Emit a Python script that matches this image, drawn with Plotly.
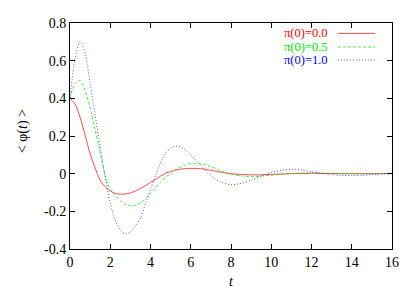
import plotly.graph_objects as go

# time grid
t = [0, 0.25, 0.5, 0.75, 1.0, 1.25, 1.5, 1.75, 2.0, 2.25, 2.5, 2.75, 3.0,
     3.25, 3.5, 3.75, 4.0, 4.25, 4.5, 4.75, 5.0, 5.25, 5.5, 5.75, 6.0,
     6.5, 7.0, 7.5, 8.0, 8.5, 9.0, 9.5, 10.0, 10.5, 11.0, 11.5, 12.0,
     12.5, 13.0, 13.5, 14.0, 14.5, 15.0, 15.5, 16.0]

# pi(0)=0.0
phi_00 = [0.40, 0.37, 0.30, 0.205, 0.105, 0.03, -0.035, -0.07, -0.092, -0.104,
          -0.109, -0.108, -0.102, -0.092, -0.078, -0.064, -0.047, -0.030, -0.013,
          0.002, 0.012, 0.019, 0.024, 0.027, 0.028,
          0.026, 0.018, 0.008, 0.000, -0.004, -0.006, -0.006, -0.004, -0.002,
          0.000, 0.001, 0.002, 0.001, 0.001, 0.000, 0.000, 0.000, 0.000, 0.000, 0.000]

# pi(0)=0.5
phi_05 = [0.40, 0.48, 0.495, 0.44, 0.35, 0.23, 0.11, -0.01, -0.085, -0.118,
          -0.145, -0.163, -0.171, -0.168, -0.155, -0.135, -0.105, -0.075, -0.045,
          -0.02, 0.0, 0.02, 0.036, 0.047, 0.054,
          0.053, 0.038, 0.015, -0.003, -0.012, -0.015, -0.013, -0.008, -0.003,
          0.001, 0.003, 0.004, 0.003, 0.001, 0.000, -0.001, -0.001, 0.000, 0.000, 0.000]

# pi(0)=1.0
phi_10 = [0.40, 0.61, 0.70, 0.64, 0.48, 0.31, 0.14, -0.02, -0.155, -0.25,
          -0.30, -0.32, -0.31, -0.28, -0.235, -0.16, -0.085, -0.01, 0.06,
          0.11, 0.135, 0.145, 0.142, 0.125, 0.10,
          0.045, -0.01, -0.045, -0.058, -0.052, -0.035, -0.012, 0.005, 0.018,
          0.024, 0.02, 0.01, 0.002, -0.005, -0.009, -0.01, -0.009, -0.005, -0.001, 0.002]

labels = ["π(0)=0.0", "π(0)=0.5", "π(0)=1.0"]
colors = ["#ff0000", "#00e000", "#0000ff"]
dashes = ["solid", "3px,2px", "1px,2px"]
series = [phi_00, phi_05, phi_10]

xticks = [0, 2, 4, 6, 8, 10, 12, 14, 16]
yticks = [-0.4, -0.2, 0, 0.2, 0.4, 0.6, 0.8]
ytick_text = ["-0.4", "-0.2", "0", "0.2", "0.4", "0.6", "0.8"]

font = "'Liberation Serif', 'Times New Roman', serif"

fig = go.Figure()
for ys, name, c, d in zip(series, labels, colors, dashes):
    fig.add_trace(go.Scatter(x=t, y=ys, mode="lines", name=name,
                             line=dict(color=c, width=1, dash=d, shape="spline", smoothing=0.8),
                             opacity=0.7, showlegend=False))

# legend drawn as text + sample lines (paper coords)
leg_y = [0.954, 0.894, 0.836]
for name, c, d, yy in zip(labels, colors, dashes, leg_y):
    fig.add_annotation(x=0.806, y=yy, xref="paper", yref="paper", text=name,
                       showarrow=False, xanchor="right", yanchor="middle",
                       font=dict(family=font, size=12.5, color=c))
    fig.add_shape(type="line", xref="paper", yref="paper", x0=0.832, x1=0.947,
                  y0=yy, y1=yy, line=dict(color=c, width=1, dash=d), opacity=0.7)

fig.add_annotation(x=-0.175, y=0.52, xref="paper", yref="paper",
                   text="&lt; φ(<i>t</i>) &gt;", textangle=-90, showarrow=False,
                   font=dict(family=font, size=14, color="black"))
fig.add_annotation(x=0.5, y=-0.146, xref="paper", yref="paper",
                   text="<i>t</i>", showarrow=False, yanchor="middle",
                   font=dict(family=font, size=14, color="black"))

axis_common = dict(showgrid=False, zeroline=False, showline=True, linecolor="black",
                   linewidth=1, mirror="allticks", ticks="inside", ticklen=5,
                   tickcolor="black", tickfont=dict(family=font, size=14, color="black"))

fig.update_xaxes(range=[0, 16], tickvals=xticks, ticktext=[str(v) for v in xticks], **axis_common)
fig.update_yaxes(range=[-0.4, 0.8], tickvals=yticks, ticktext=ytick_text, **axis_common)

fig.update_layout(width=407, height=283, margin=dict(l=62, r=23, t=8, b=42),
                  paper_bgcolor="white", plot_bgcolor="white",
                  font=dict(family=font))

fig.write_html("out.html")
